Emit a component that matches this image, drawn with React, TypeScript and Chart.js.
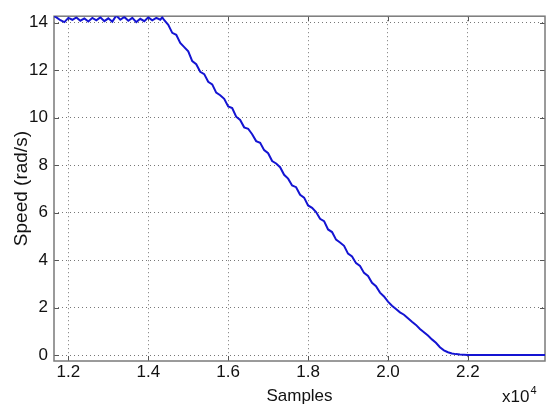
import { useEffect, useRef } from "react";
import { Chart, registerables } from "chart.js";

Chart.register(...registerables);

// Sample index (x) and measured speed (y, rad/s)
const sampleX: number[] = [
  11640, 11700, 11800, 11900, 12000, 12100, 12200, 12300, 12400, 12500,
  12600, 12700, 12800, 12900, 13000, 13100, 13200, 13300, 13400, 13500,
  13600, 13700, 13800, 13900, 14000, 14100, 14200, 14300, 14350, 14400,
  14500, 14600, 14700, 14800, 14900, 15000, 15100, 15200, 15300, 15400,
  15500, 15600, 15700, 15800, 15900, 16000, 16100, 16200, 16300, 16400,
  16500, 16600, 16700, 16800, 16900, 17000, 17100, 17200, 17300, 17400,
  17500, 17600, 17700, 17800, 17900, 18000, 18100, 18200, 18300, 18400,
  18500, 18600, 18700, 18800, 18900, 19000, 19100, 19200, 19300, 19400,
  19500, 19600, 19700, 19800, 19900, 20000, 20100, 20200, 20300, 20400,
  20500, 20600, 20700, 20800, 20900, 21000, 21100, 21200, 21300, 21400,
  21500, 21600, 21700, 21800, 21900, 22000, 23930,
];

const speedY: number[] = [
  14.28, 14.22, 14.1, 14.02, 14.2, 14.12, 14.22, 14.08, 14.18, 14.05,
  14.2, 14.1, 14.22, 14.06, 14.18, 14.04, 14.3, 14.12, 14.24, 14.08,
  14.2, 14.02, 14.16, 14.06, 14.22, 14.1, 14.2, 14.12, 14.22, 14.1,
  13.91, 13.57, 13.49, 13.14, 12.97, 12.79, 12.38, 12.25, 11.93, 11.83,
  11.51, 11.4, 11.05, 10.94, 10.79, 10.47, 10.4, 10.04, 9.9, 9.59,
  9.53, 9.3, 9.01, 8.94, 8.63, 8.5, 8.17, 8.07, 7.91, 7.59,
  7.43, 7.14, 7.07, 6.75, 6.63, 6.3, 6.2, 6.02, 5.74, 5.64,
  5.29, 5.18, 4.86, 4.74, 4.6, 4.27, 4.15, 3.87, 3.75, 3.46,
  3.33, 3.04, 2.9, 2.63, 2.47, 2.25, 2.08, 1.94, 1.8, 1.7,
  1.55, 1.4, 1.27, 1.1, 0.96, 0.82, 0.66, 0.52, 0.33, 0.2,
  0.12, 0.07, 0.04, 0.02, 0.01, 0.0, 0.0,
];

const xTickValues: number[] = [12000, 14000, 16000, 18000, 20000, 22000];
const yTickValues: number[] = [0, 2, 4, 6, 8, 10, 12, 14];

const X_MIN = 11640;
const X_MAX = 23930;
const Y_MIN = -0.25;
const Y_MAX = 14.27;

const FONT = "'Liberation Sans', Arial, Helvetica, sans-serif";
const LINE_COLOR = "#1414d2";

const matlabFrame = {
  id: "matlabFrame",
  beforeDatasetsDraw(chart: any) {
    const { ctx, chartArea, scales } = chart;
    const { left, right, top, bottom } = chartArea;
    ctx.save();
    ctx.strokeStyle = "#555";
    ctx.lineWidth = 1;
    const tl = 5;
    ctx.beginPath();
    for (const v of xTickValues) {
      const x = Math.round(scales.x.getPixelForValue(v)) + 0.5;
      ctx.moveTo(x, bottom);
      ctx.lineTo(x, bottom - tl);
      ctx.moveTo(x, top);
      ctx.lineTo(x, top + tl);
    }
    for (const v of yTickValues) {
      const y = Math.round(scales.y.getPixelForValue(v)) + 0.5;
      ctx.moveTo(left, y);
      ctx.lineTo(left + tl, y);
      ctx.moveTo(right, y);
      ctx.lineTo(right - tl, y);
    }
    ctx.stroke();
    ctx.strokeStyle = "#7a7a7a";
    ctx.lineWidth = 1.5;
    ctx.strokeRect(left, top, right - left, bottom - top);
    ctx.restore();
  },
  afterDraw(chart: any) {
    const { ctx, chartArea } = chart;
    ctx.save();
    ctx.fillStyle = "#111";
    ctx.textBaseline = "alphabetic";
    ctx.textAlign = "left";
    ctx.font = `17px ${FONT}`;
    const base = "x10";
    const w = ctx.measureText(base).width;
    const x0 = chartArea.right - 43;
    const y0 = chartArea.bottom + 41;
    ctx.fillText(base, x0, y0);
    ctx.font = `11px ${FONT}`;
    ctx.fillText("4", x0 + w + 1, y0 - 8);
    ctx.restore();
  },
};

export default function App() {
  const canvasRef = useRef<HTMLCanvasElement | null>(null);

  useEffect(() => {
    document.body.style.margin = "0";
    const canvas = canvasRef.current;
    if (!canvas) return;
    const points = sampleX.map((x, i) => ({ x, y: speedY[i] }));
    const chart = new Chart(canvas, {
      type: "line",
      data: {
        datasets: [
          {
            data: points,
            borderColor: LINE_COLOR,
            borderWidth: 2,
            pointRadius: 0,
            tension: 0,
            fill: false,
          },
        ],
      },
      options: {
        responsive: false,
        animation: false,
        parsing: false as any,
        layout: { padding: { top: 16, right: 2, left: 0, bottom: 0 } },
        plugins: {
          legend: { display: false },
          tooltip: { enabled: false },
        },
        scales: {
          x: {
            type: "linear",
            min: X_MIN,
            max: X_MAX,
            afterBuildTicks: (scale: any) => {
              scale.ticks = xTickValues.map((v) => ({ value: v }));
            },
            afterFit: (scale: any) => {
              scale.height = 46;
            },
            ticks: {
              autoSkip: false,
              maxRotation: 0,
              padding: 1,
              color: "#111",
              font: { family: FONT, size: 17 },
              callback: (v: any) => (Number(v) / 10000).toFixed(1),
            },
            grid: {
              color: "#777",
              lineWidth: 1,
              drawTicks: false,
            },
            border: { display: false, dash: [1, 3] },
            title: {
              display: true,
              text: "Samples",
              color: "#111",
              font: { family: FONT, size: 17, lineHeight: 1 },
              padding: { top: 0, bottom: 2 },
            },
          },
          y: {
            type: "linear",
            min: Y_MIN,
            max: Y_MAX,
            afterBuildTicks: (scale: any) => {
              scale.ticks = yTickValues.map((v) => ({ value: v }));
            },
            afterFit: (scale: any) => {
              scale.width = 54;
            },
            ticks: {
              autoSkip: false,
              padding: 6,
              color: "#111",
              font: { family: FONT, size: 17 },
              callback: (v: any) => String(v),
            },
            grid: {
              color: "#777",
              lineWidth: 1,
              drawTicks: false,
            },
            border: { display: false, dash: [1, 3] },
            title: {
              display: true,
              text: "Speed (rad/s)",
              color: "#111",
              font: { family: FONT, size: 19, lineHeight: 1 },
              padding: { top: 12, bottom: 0 },
            },
          },
        },
      },
      plugins: [matlabFrame],
    });
    return () => chart.destroy();
  }, []);

  return (
    <div style={{ width: 547, height: 407 }}>
      <canvas ref={canvasRef} width={547} height={407} />
    </div>
  );
}
